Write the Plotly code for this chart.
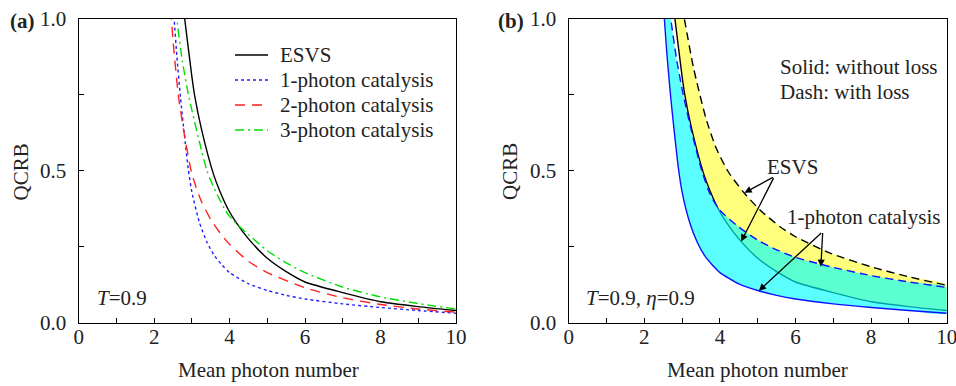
import plotly.graph_objects as go

# ---------------- data ----------------
# Panel (a): T = 0.9
esvs_x = [2.78, 2.81, 3.0, 3.07, 3.25, 3.57, 3.75, 3.97, 4.19, 4.5, 5.0, 5.5, 6.0, 7.0, 8.0, 9.0, 10.0]
esvs_y = [1.03, 1.0, 0.81, 0.75, 0.64, 0.49, 0.43, 0.371, 0.327, 0.276, 0.212, 0.168, 0.134, 0.099, 0.069, 0.053, 0.040]

p1_x = [2.51, 2.53, 2.6, 2.7, 2.8, 2.9, 3.0, 3.2, 3.4, 3.6, 3.8, 4.0, 4.5, 5.0, 5.5, 6.0, 7.0, 8.0, 9.0, 10.0]
p1_y = [1.03, 1.0, 0.88, 0.74, 0.62, 0.51, 0.43, 0.33, 0.265, 0.22, 0.19, 0.165, 0.128, 0.106, 0.090, 0.078, 0.062, 0.050, 0.040, 0.031]

p2_x = [2.44, 2.46, 2.5, 2.64, 2.8, 3.0, 3.25, 3.5, 3.75, 4.0, 4.5, 5.0, 6.0, 7.0, 8.0, 9.0, 10.0]
p2_y = [1.03, 1.0, 0.93, 0.75, 0.62, 0.49, 0.40, 0.34, 0.295, 0.258, 0.202, 0.165, 0.115, 0.082, 0.060, 0.045, 0.035]

p3_x = [2.58, 2.6, 2.75, 2.91, 3.0, 3.25, 3.4, 3.6, 3.88, 4.0, 4.19, 4.5, 5.0, 5.5, 6.0, 7.0, 8.0, 9.0, 10.0]
p3_y = [1.03, 1.0, 0.86, 0.75, 0.70, 0.57, 0.50, 0.44, 0.371, 0.35, 0.325, 0.29, 0.237, 0.197, 0.165, 0.117, 0.085, 0.063, 0.045]

# Panel (b): T = 0.9, eta = 0.9 (with loss)
esvs_loss_x = [3.0, 3.06, 3.3, 3.63, 3.9, 4.22, 4.65, 5.06, 5.59, 6.0, 6.9, 8.0, 9.0, 10.0]
esvs_loss_y = [1.04, 1.0, 0.84, 0.673, 0.575, 0.497, 0.426, 0.371, 0.316, 0.283, 0.230, 0.184, 0.151, 0.123]

p1_loss_x = [2.67, 2.70, 2.85, 3.03, 3.25, 3.52, 3.75, 4.0, 4.5, 5.0, 5.5, 6.0, 6.74, 7.0, 8.0, 9.0, 10.0]
p1_loss_y = [1.03, 1.0, 0.87, 0.75, 0.63, 0.50, 0.42, 0.37, 0.315, 0.272, 0.24, 0.215, 0.19, 0.182, 0.155, 0.134, 0.116]

legend_names = ["ESVS", "1-photon catalysis", "2-photon catalysis", "3-photon catalysis"]
x_ticks = [0, 2, 4, 6, 8, 10]
y_ticks = [0.0, 0.5, 1.0]

FONT = "Liberation Serif, Times New Roman, serif"
FS = 21
W, H = 956, 386

styles = [dict(color="black", width=1.4),
          dict(color="#1f1fff", width=1.4, dash="dot"),
          dict(color="#ff1f1f", width=1.4, dash="10px,7px"),
          dict(color="#00e000", width=1.4, dash="9px,4px,2px,4px")]
SPL = dict(shape="spline", smoothing=0.6)

fig = go.Figure()

# ---------------- panel (a) ----------------
for (xs, ys), name, st in zip([(esvs_x, esvs_y), (p1_x, p1_y), (p2_x, p2_y), (p3_x, p3_y)],
                              legend_names, styles):
    fig.add_trace(go.Scatter(x=xs, y=ys, mode="lines", name=name, showlegend=False,
                             line=dict(st, **SPL), xaxis="x", yaxis="y"))

# ---------------- panel (b) ----------------
fig.add_trace(go.Scatter(x=esvs_x + esvs_loss_x[::-1], y=esvs_y + esvs_loss_y[::-1],
                         mode="lines", fill="toself", fillcolor="rgb(255,255,125)",
                         line=dict(width=0, **SPL), showlegend=False,
                         hoverinfo="skip", xaxis="x2", yaxis="y2"))
fig.add_trace(go.Scatter(x=esvs_x, y=esvs_y, mode="lines", showlegend=False,
                         line=dict(color="black", width=1.4, **SPL), xaxis="x2", yaxis="y2"))
fig.add_trace(go.Scatter(x=esvs_loss_x, y=esvs_loss_y, mode="lines", showlegend=False,
                         line=dict(color="black", width=1.4, dash="8px,5px", **SPL),
                         xaxis="x2", yaxis="y2"))
fig.add_trace(go.Scatter(x=p1_x + p1_loss_x[::-1], y=p1_y + p1_loss_y[::-1],
                         mode="lines", fill="toself", fillcolor="rgba(0,255,255,0.64)",
                         line=dict(width=0, **SPL), showlegend=False,
                         hoverinfo="skip", xaxis="x2", yaxis="y2"))
fig.add_trace(go.Scatter(x=p1_x, y=p1_y, mode="lines", showlegend=False,
                         line=dict(color="#1010ff", width=1.4, **SPL), xaxis="x2", yaxis="y2"))
fig.add_trace(go.Scatter(x=p1_loss_x, y=p1_loss_y, mode="lines", showlegend=False,
                         line=dict(color="#1010ff", width=1.4, dash="8px,5px", **SPL),
                         xaxis="x2", yaxis="y2"))

axis_common = dict(showline=True, linecolor="black", linewidth=1.3, mirror=True,
                   showgrid=False, zeroline=False, ticks="inside", ticklen=5,
                   tickwidth=1, tickcolor="black", automargin=False,
                   ticklabeloverflow="allow",
                   tickfont=dict(family=FONT, size=FS, color="#222"))

xa = dict(axis_common, range=[0, 10], tickvals=x_ticks, ticktext=[str(v) for v in x_ticks],
          minor=dict(dtick=1, tick0=0, ticks="inside", ticklen=5, tickcolor="black"),
          ticklabelstandoff=-5)
ya = dict(axis_common, range=[0, 1], tickvals=y_ticks, ticktext=[f"{v:.1f}" for v in y_ticks],
          minor=dict(dtick=0.25, tick0=0, ticks="inside", ticklen=5, tickcolor="black"),
          ticklabelstandoff=7)

fig.update_layout(
    width=W, height=H, autosize=False,
    margin=dict(l=0, r=0, t=0, b=0, pad=0, autoexpand=False),
    paper_bgcolor="white", plot_bgcolor="white",
    font=dict(family=FONT, size=FS, color="#222"),
    xaxis=dict(xa, domain=[0.0823, 0.477], anchor="y"),
    yaxis=dict(ya, domain=[0.164, 0.9508], anchor="x"),
    xaxis2=dict(xa, domain=[0.5949, 0.9903], anchor="y2"),
    yaxis2=dict(ya, domain=[0.164, 0.9508], anchor="x2"),
    showlegend=False,
)

ann = []
def txt(x, y, s, xref="paper", yref="paper", xanchor="center", yanchor="middle", angle=0):
    ann.append(dict(x=x, y=y, xref=xref, yref=yref, text=s, showarrow=False,
                    xanchor=xanchor, yanchor=yanchor, textangle=angle,
                    font=dict(family=FONT, size=FS, color="#222")))

txt(22.5 / W, 1 - 20.7 / H, "<b>(a)</b>")
txt(511.2 / W, 1 - 20.7 / H, "<b>(b)</b>")
txt(20.7 / W, 1 - 171.7 / H, "QCRB", angle=-90)
txt(509.3 / W, 1 - 171.7 / H, "QCRB", angle=-90)
txt(268 / W, 1 - 370 / H, "Mean photon number")
txt(757 / W, 1 - 370 / H, "Mean photon number")
txt(95 / W, 1 - 298 / H, "<i>T</i>=0.9", xanchor="left")
txt(584.3 / W, 1 - 298 / H, "<i>T</i>=0.9, <i>η</i>=0.9", xanchor="left")
txt(777.7 / W, 1 - 66.7 / H, "Solid: without loss", xanchor="left")
txt(777.7 / W, 1 - 91.7 / H, "Dash: with loss", xanchor="left")
txt(5.93, 0.513, "ESVS", xref="x2", yref="y2")
txt(7.79, 0.349, "1-photon catalysis", xref="x2", yref="y2")

# legend of panel (a): sample line + label for each series
shapes = []
for i, (name, st) in enumerate(zip(legend_names, styles)):
    yc = 1 - (55 + 25 * i) / H
    shapes.append(dict(type="line", xref="paper", yref="paper",
                       x0=235 / W, x1=268 / W, y0=yc, y1=yc,
                       line=dict(color=st["color"], width=st["width"], dash=st.get("dash", "solid"))))
    txt(277.7 / W, yc, name, xanchor="left")

# arrows: (head x, head y, tail x, tail y)
arrows = [(4.65, 0.428, 5.44, 0.481), (4.56, 0.267, 5.44, 0.481),
          (6.67, 0.184, 6.72, 0.30), (5.03, 0.105, 6.72, 0.30)]
for hx, hy, tx, ty in arrows:
    ann.append(dict(x=hx, y=hy, ax=tx, ay=ty, xref="x2", yref="y2", axref="x2", ayref="y2",
                    text="", showarrow=True, arrowhead=2, arrowsize=1.1, arrowwidth=1.3,
                    arrowcolor="black", standoff=0, startstandoff=0))

fig.update_layout(annotations=ann, shapes=shapes)
fig.write_html("out.html",
               post_script="document.body.style.margin='0';document.body.style.padding='0';"
                           "document.documentElement.style.overflow='hidden';")
